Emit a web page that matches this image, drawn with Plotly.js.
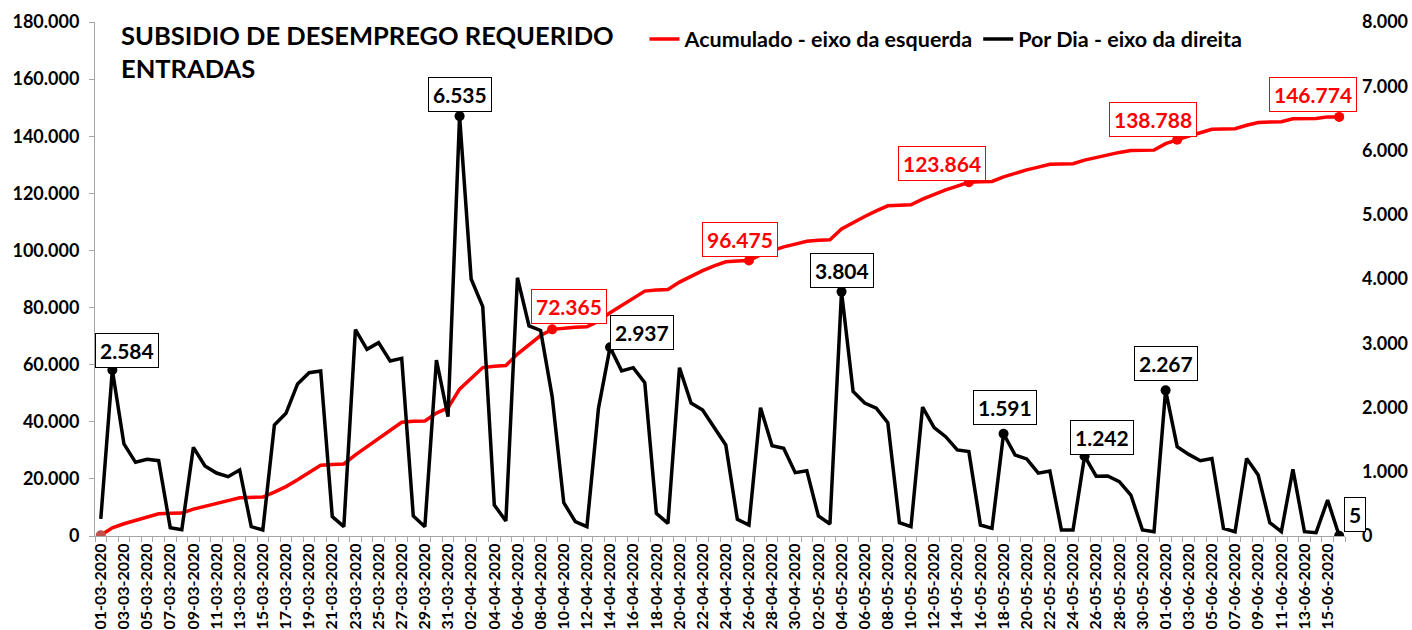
<!DOCTYPE html>
<html>
<head>
<meta charset="utf-8">
<script src="https://cdn.plot.ly/plotly-3.0.1.min.js"></script>
<style>
  html, body { margin: 0; padding: 0; background: #ffffff; }
  #chart { width: 1412px; height: 630px; }
</style>
</head>
<body>
<div id="chart"></div>
<script>
const dates = [
  "01-03-2020","02-03-2020","03-03-2020","04-03-2020","05-03-2020","06-03-2020","07-03-2020","08-03-2020","09-03-2020","10-03-2020",
  "11-03-2020","12-03-2020","13-03-2020","14-03-2020","15-03-2020","16-03-2020","17-03-2020","18-03-2020","19-03-2020","20-03-2020",
  "21-03-2020","22-03-2020","23-03-2020","24-03-2020","25-03-2020","26-03-2020","27-03-2020","28-03-2020","29-03-2020","30-03-2020",
  "31-03-2020","01-04-2020","02-04-2020","03-04-2020","04-04-2020","05-04-2020","06-04-2020","07-04-2020","08-04-2020","09-04-2020",
  "10-04-2020","11-04-2020","12-04-2020","13-04-2020","14-04-2020","15-04-2020","16-04-2020","17-04-2020","18-04-2020","19-04-2020",
  "20-04-2020","21-04-2020","22-04-2020","23-04-2020","24-04-2020","25-04-2020","26-04-2020","27-04-2020","28-04-2020","29-04-2020",
  "30-04-2020","01-05-2020","02-05-2020","03-05-2020","04-05-2020","05-05-2020","06-05-2020","07-05-2020","08-05-2020","09-05-2020",
  "10-05-2020","11-05-2020","12-05-2020","13-05-2020","14-05-2020","15-05-2020","16-05-2020","17-05-2020","18-05-2020","19-05-2020",
  "20-05-2020","21-05-2020","22-05-2020","23-05-2020","24-05-2020","25-05-2020","26-05-2020","27-05-2020","28-05-2020","29-05-2020",
  "30-05-2020","31-05-2020","01-06-2020","02-06-2020","03-06-2020","04-06-2020","05-06-2020","06-06-2020","07-06-2020","08-06-2020",
  "09-06-2020","10-06-2020","11-06-2020","12-06-2020","13-06-2020","14-06-2020","15-06-2020","16-06-2020"
];

const porDia = [
  265, 2584, 1432, 1147, 1194, 1172, 130, 98, 1380, 1089,
  980, 923, 1027, 145, 93, 1728, 1909, 2366, 2542, 2568,
  301, 145, 3212, 2906, 3009, 2724, 2765, 311, 145, 2739,
  1857, 6535, 4000, 3569, 482, 233, 4020, 3270, 3200, 2170,
  519, 223, 145, 1987, 2937, 2570, 2620, 2386, 353, 197,
  2620, 2070, 1961, 1676, 1416, 259, 171, 1997, 1406, 1365,
  986, 1017, 311, 187, 3804, 2250, 2070, 1990, 1764, 208,
  145, 2005, 1686, 1546, 1339, 1313, 171, 119, 1591, 1260,
  1200, 978, 1012, 93, 93, 1242, 930, 934, 846, 638,
  93, 67, 2267, 1390, 1270, 1172, 1205, 119, 67, 1207,
  949, 208, 67, 1038, 67, 52, 560, 5
];

const acumulado = [
  265, 2849, 4281, 5428, 6622, 7794, 7924, 8022, 9402, 10491,
  11471, 12394, 13421, 13566, 13659, 15387, 17296, 19662, 22204, 24772,
  25073, 25218, 28430, 31336, 34345, 37069, 39834, 40145, 40290, 43029,
  44886, 51421, 55421, 58990, 59472, 59705, 63725, 66995, 70195, 72365,
  72884, 73107, 73252, 75239, 78176, 80746, 83366, 85752, 86105, 86302,
  88922, 90992, 92953, 94629, 96045, 96304, 96475, 98472, 99878, 101243,
  102229, 103246, 103557, 103744, 107548, 109798, 111868, 113858, 115622, 115830,
  115975, 117980, 119666, 121212, 122551, 123864, 124035, 124154, 125745, 127005,
  128205, 129183, 130195, 130288, 130381, 131623, 132553, 133487, 134333, 134971,
  135064, 135131, 137398, 138788, 140058, 141230, 142435, 142554, 142621, 143828,
  144777, 144985, 145052, 146090, 146157, 146209, 146769, 146774
];

const seriesNames = ["Acumulado - eixo da esquerda", "Por Dia - eixo da direita"];
const titleLines = ["SUBSIDIO DE DESEMPREGO REQUERIDO", "ENTRADAS"];

// indices of labelled points
const acumLabelIdx = [39, 56, 75, 93, 107];
const porDiaLabelIdx = [1, 31, 44, 64, 78, 85, 92, 107];

// label placement (styling only)
const acumLabelPos = {
  39: {xs: 17, ys: 5, xa: "center"},
  56: {xs: -9, ys: 4, xa: "center"},
  75: {xs: -27, ys: 1, xa: "center"},
  93: {xs: -24, ys: 3, xa: "center"},
  107: {xs: -26, ys: 5, xa: "center"}
};
const porDiaLabelPos = {
  1: {xs: 15, ys: 2, xa: "center"},
  31: {xs: 0, ys: 4, xa: "center"},
  44: {xs: 0, ys: -3, xa: "left"},
  64: {xs: 0, ys: 4, xa: "center"},
  78: {xs: 1, ys: 9, xa: "center"},
  85: {xs: 17, ys: 1, xa: "center"},
  92: {xs: 0, ys: 9, xa: "center"},
  107: {xs: 5, ys: 4, xa: "left"}
};

function fmt(n) {
  return String(n).replace(/\B(?=(\d{3})+(?!\d))/g, ".");
}

const FONT = "Lato, 'Open Sans', sans-serif";

const traces = [
  {
    x: dates, y: acumulado, name: seriesNames[0], type: "scatter", mode: "lines",
    line: {color: "#FF0000", width: 3.5}, yaxis: "y", hoverinfo: "skip"
  },
  {
    x: dates, y: porDia, name: seriesNames[1], type: "scatter", mode: "lines",
    line: {color: "#000000", width: 3.5}, yaxis: "y2", hoverinfo: "skip"
  },
  {
    x: [dates[0]].concat(acumLabelIdx.map(i => dates[i])),
    y: [acumulado[0]].concat(acumLabelIdx.map(i => acumulado[i])),
    type: "scatter", mode: "markers", showlegend: false, yaxis: "y", hoverinfo: "skip",
    marker: {size: 10, opacity: 1, color: ["#C0504D"].concat(acumLabelIdx.map(() => "#FF0000")), line: {width: 0}}
  },
  {
    x: porDiaLabelIdx.map(i => dates[i]),
    y: porDiaLabelIdx.map(i => porDia[i]),
    type: "scatter", mode: "markers", showlegend: false, yaxis: "y2", hoverinfo: "skip",
    marker: {size: 10, opacity: 1, color: "#000000", line: {width: 0}}
  }
];

const annotations = [];
annotations.push({
  xref: "paper", yref: "paper", x: (119 - 95) / 1250, y: (536 - 18) / 514,
  xanchor: "left", yanchor: "top", align: "left", showarrow: false,
  text: titleLines.join("<br>"),
  font: {family: FONT, size: 25.5, color: "#000000", weight: "bold"}
});
acumLabelIdx.forEach(i => {
  const p = acumLabelPos[i];
  annotations.push({
    x: dates[i], y: acumulado[i], xref: "x", yref: "y",
    text: fmt(acumulado[i]), showarrow: false,
    xanchor: p.xa, yanchor: "bottom", xshift: p.xs, yshift: p.ys,
    font: {family: FONT, size: 21, color: "#FF0000", weight: "bold"},
    bgcolor: "#FFFFFF", bordercolor: "#FF0000", borderwidth: 1, borderpad: 4
  });
});
porDiaLabelIdx.forEach(i => {
  const p = porDiaLabelPos[i];
  annotations.push({
    x: dates[i], y: porDia[i], xref: "x", yref: "y2",
    text: fmt(porDia[i]), showarrow: false,
    xanchor: p.xa, yanchor: "bottom", xshift: p.xs, yshift: p.ys,
    font: {family: FONT, size: 21, color: "#000000", weight: "bold"},
    bgcolor: "#FFFFFF", bordercolor: "#000000", borderwidth: 1, borderpad: 4
  });
});

const layout = {
  width: 1412, height: 630,
  paper_bgcolor: "#FFFFFF", plot_bgcolor: "#FFFFFF",
  separators: ",.",
  margin: {l: 95, r: 67, t: 22, b: 94, pad: 0},
  font: {family: FONT, color: "#000000"},
  showlegend: true,
  legend: {
    orientation: "h", x: 0.4396, xanchor: "left", y: 0.967, yanchor: "middle",
    font: {family: FONT, size: 21.5, color: "#000000", weight: "bold"},
    bgcolor: "rgba(0,0,0,0)", traceorder: "normal", itemwidth: 30
  },
  xaxis: {
    type: "category", categoryorder: "array", categoryarray: dates,
    range: [-0.5, dates.length - 0.5],
    tickmode: "linear", tick0: 0, dtick: 1, ticklabelstep: 2,
    tickson: "boundaries", ticks: "outside", ticklen: 5, tickcolor: "#A6A6A6", tickwidth: 1,
    tickangle: -90,
    tickfont: {family: FONT, size: 16, color: "#000000", weight: "bold"},
    showline: true, linecolor: "#A6A6A6", linewidth: 1,
    showgrid: false, zeroline: false, fixedrange: true
  },
  yaxis: {
    range: [0, 180000], tickmode: "linear", tick0: 0, dtick: 20000,
    tickformat: ",d",
    ticks: "outside", ticklen: 5, tickcolor: "#A6A6A6", tickwidth: 1,
    ticklabelstandoff: 6,
    tickfont: {family: FONT, size: 18, color: "#000000", weight: "bold"},
    showline: true, linecolor: "#A6A6A6", linewidth: 1,
    showgrid: false, zeroline: false, fixedrange: true
  },
  yaxis2: {
    overlaying: "y", side: "right",
    range: [0, 8000], tickmode: "linear", tick0: 0, dtick: 1000,
    tickformat: ",d",
    ticks: "", ticklabelstandoff: 16,
    tickfont: {family: FONT, size: 18, color: "#000000", weight: "bold"},
    showline: false, showgrid: false, zeroline: false, fixedrange: true
  },
  annotations: annotations
};

Plotly.newPlot("chart", traces, layout, {displayModeBar: false, staticPlot: true});
</script>
</body>
</html>
